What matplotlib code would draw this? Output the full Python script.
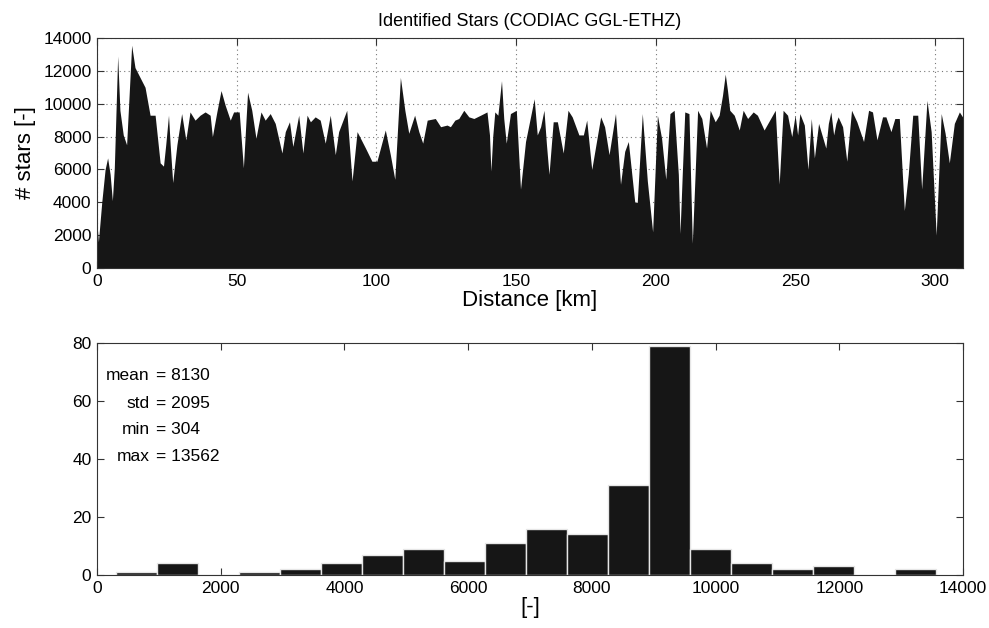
import matplotlib
matplotlib.use("Agg")
import matplotlib.pyplot as plt
import numpy as np

plt.rcParams['font.family'] = ['Liberation Sans', 'DejaVu Sans']

# ---- top panel: identified stars along track ----
distance_km = [
    0.0, 0.5, 1.7, 2.9, 3.8, 4.7, 5.5, 6.2, 7.4, 8.2, 9.4, 10.6, 12.4, 13.6, 15.4, 17.2,
    19.0, 20.8, 22.6, 23.8, 24.6, 25.6, 26.2, 27.1, 28.6, 30.3, 31.8, 33.3, 35.1, 36.9,
    38.7, 40.5, 41.3, 42.9, 44.4, 45.9, 47.7, 48.9, 50.9, 52.4, 53.9, 55.4, 56.9, 58.7,
    60.2, 62.0, 63.8, 66.2, 67.4, 68.9, 70.1, 72.2, 73.7, 75.2, 76.4, 78.1, 79.9, 81.7,
    83.5, 85.3, 86.5, 89.4, 91.3, 93.1, 96.1, 98.4, 100.2, 103.2, 105.0, 106.6, 108.6,
    110.2, 111.6, 113.7, 115.2, 116.6, 118.2, 121.1, 123.0, 125.3, 126.5, 128.1, 129.5,
    131.3, 133.1, 134.9, 137.3, 139.6, 140.5, 141.0, 141.7, 142.4, 143.5, 144.8, 145.6,
    146.5, 148.0, 150.1, 151.6, 153.4, 156.5, 157.6, 158.8, 160.0, 160.9, 161.8, 163.3,
    164.8, 166.9, 168.6, 170.1, 172.5, 174.1, 175.3, 177.1, 180.3, 181.7, 183.3, 185.6,
    187.4, 188.9, 190.2, 192.5, 193.4, 195.2, 197.0, 198.9, 200.6, 202.1, 203.6, 205.1,
    206.6, 208.1, 208.7, 209.5, 210.4, 211.9, 213.1, 214.1, 215.0, 216.5, 218.2, 219.5,
    221.3, 222.7, 223.9, 224.9, 225.7, 226.5, 228.1, 229.9, 231.3, 232.9, 234.9, 236.4,
    238.8, 240.8, 242.8, 244.2, 245.6, 247.2, 248.7, 249.9, 250.8, 251.6, 253.2, 254.5,
    255.7, 256.8, 258.3, 260.9, 261.8, 262.7, 263.7, 264.5, 265.3, 266.9, 268.4, 270.1,
    272.0, 274.4, 276.2, 277.6, 279.2, 281.2, 282.4, 284.2, 285.6, 287.2, 289.0, 290.4,
    292.0, 293.8, 295.2, 297.1, 298.6, 300.4, 302.2, 303.6, 305.1, 306.9, 308.7, 310.2,
]
n_stars = [
    2700, 1600, 4000, 6000, 6700, 5700, 4100, 6100, 12900, 9600, 8100, 7500, 13560, 12200, 11600, 11000,
    9300, 9300, 6400, 6200, 7500, 9300, 7500, 5200, 7500, 9400, 7800, 9500, 9000, 9300,
    9500, 9300, 8000, 9500, 10800, 9900, 9000, 9500, 9500, 6100, 10700, 9600, 7900, 9500,
    9000, 9400, 8800, 7000, 8300, 8900, 7400, 9300, 7000, 9300, 8900, 9200, 9000, 7600,
    9300, 6900, 8300, 9600, 5300, 8300, 7300, 6500, 6500, 8400, 6900, 5400, 11600,
    9600, 8200, 9300, 8300, 7600, 9000, 9100, 8600, 8700, 8600, 9000, 9100,
    9600, 9200, 9100, 9300, 9500, 8100, 5900, 8100, 9500, 9300, 11400, 9100,
    7600, 9400, 9600, 4800, 7700, 10300, 8100, 8600, 9600, 7500, 5700, 8900,
    8900, 7000, 9600, 9200, 8100, 8100, 9000, 6000, 9200, 8600, 6900, 9400,
    5100, 7100, 7700, 4000, 4000, 9400, 5300, 2200, 9300, 7900, 5400, 9400,
    9600, 5700, 2100, 5700, 9500, 9400, 1500, 5700, 9600, 9100, 7300, 9600,
    8900, 9300, 10500, 11800, 10800, 9600, 9300, 8400, 9600, 9100, 9500, 9300,
    8400, 9000, 9600, 5100, 9600, 9300, 8000, 9300, 8100, 9400, 8700, 6000,
    9100, 6700, 8800, 7300, 8800, 9500, 8100, 8800, 9200, 8600, 6500, 9600,
    8900, 7700, 9600, 9500, 7800, 9200, 9200, 8300, 9100, 9100, 3500, 5700,
    9300, 9300, 4800, 10200, 8300, 2000, 9400, 8200, 6400, 8800, 9500, 9100,
]

# ---- bottom panel: histogram (20 bins between min and max) ----
hist_min = 304
hist_max = 13562
hist_counts = [1, 4, 0, 1, 2, 4, 7, 9, 5, 11, 16, 14, 31, 79, 9, 4, 2, 3, 0, 2]
stat_labels = ["mean", "std", "min", "max"]
stat_values = ["8130", "2095", "304", "13562"]

top_title = "Identified Stars (CODIAC GGL-ETHZ)"
top_xlabel = "Distance [km]"
top_ylabel = "# stars [-]"
bot_xlabel = "[-]"

dark = "#161616"

fig = plt.figure(figsize=(9.89, 6.28), dpi=100)
ax1 = fig.add_axes([97 / 989, 1 - 268 / 628, 866 / 989, 230 / 628])
ax2 = fig.add_axes([97 / 989, 1 - 575 / 628, 866 / 989, 232 / 628])

# top
ax1.fill_between(distance_km, n_stars, 0, color=dark, linewidth=0, zorder=2)
ax1.set_xlim(0, 310)
ax1.set_ylim(0, 14000)
ax1.set_xticks(np.arange(0, 301, 50))
ax1.set_yticks(np.arange(0, 14001, 2000))
ax1.set_axisbelow(True)
ax1.grid(True, linestyle=(0, (1, 3)), color="#777777", linewidth=0.8)
ax1.set_title(top_title, fontsize=13, pad=9)
ax1.set_xlabel(top_xlabel, fontsize=16, labelpad=1)
ax1.set_ylabel(top_ylabel, fontsize=16, labelpad=5)

# bottom
edges = np.linspace(hist_min, hist_max, len(hist_counts) + 1)
ax2.bar(edges[:-1], hist_counts, width=np.diff(edges), align="edge",
        color=dark, edgecolor="#e6e6e6", linewidth=1.0, zorder=2)
ax2.set_xlim(0, 14000)
ax2.set_ylim(0, 80)
ax2.set_xticks(np.arange(0, 14001, 2000))
ax2.set_yticks(np.arange(0, 81, 20))
ax2.set_xlabel(bot_xlabel, fontsize=16, labelpad=1)

ys = [0.858, 0.741, 0.625, 0.509]
for lab, val, yy in zip(stat_labels, stat_values, ys):
    ax2.text(0.061, yy, lab, transform=ax2.transAxes, ha="right", va="center", fontsize=12.5)
    ax2.text(0.068, yy, "= " + val, transform=ax2.transAxes, ha="left", va="center", fontsize=12.5)

for ax in (ax1, ax2):
    ax.tick_params(direction="in", length=5, width=0.8, labelsize=12.5,
                   top=True, right=True, pad=4, color="#333333")
    for s in ax.spines.values():
        s.set_linewidth(0.8)
        s.set_color("#333333")

fig.savefig("out.png", dpi=100)
